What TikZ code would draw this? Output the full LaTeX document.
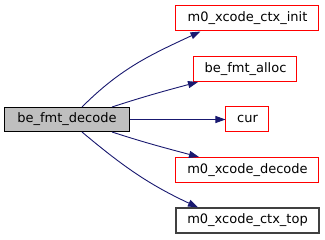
\documentclass[tikz,border=0pt]{standalone}
\usepackage{fontspec}
\setmainfont{DejaVu Sans}
\usetikzlibrary{arrows.meta,positioning}
\definecolor{edgeblue}{RGB}{25,25,112}
\definecolor{nodegray}{RGB}{191,191,191}
\definecolor{linkred}{RGB}{255,0,0}
\definecolor{darkframe}{RGB}{64,64,64}

\begin{document}
\begin{tikzpicture}[
    x=1pt, y=-1pt,
    fn/.style={draw=linkred, fill=white, line width=1pt, inner sep=0pt,
        minimum height=25pt, font=\fontsize{13}{15}\selectfont,
        text height=9.5pt, text depth=3pt},
    root/.style={fn, draw=black, fill=nodegray, minimum height=24pt},
    plain/.style={fn, draw=darkframe, line width=1.2pt},
    call/.style={edgeblue, line width=0.9pt, -{Triangle[length=10pt,width=7pt]}}
]
\useasboundingbox (0,0) rectangle (325,240);

% caller
\node[root, minimum width=125pt] (decode) at (67,119.5) {be\_fmt\_decode};

% callees
\node[fn, minimum width=143pt] (ctxinit) at (247.5,18.5) {m0\_xcode\_ctx\_init};
\node[fn, minimum width=103pt] (alloc) at (245.5,69) {be\_fmt\_alloc};
\node[fn, minimum width=43pt] (cur) at (247.5,119.5) {cur};
\node[fn, minimum width=143pt] (xdecode) at (247.5,170) {m0\_xcode\_decode};
\node[plain, minimum width=143pt] (ctxtop) at (247.5,220.5) {m0\_xcode\_ctx\_top};

% calls
\draw[call] ([xshift=15pt]decode.north) to[out=45,in=205] ([xshift=-47pt]ctxinit.south);
\draw[call] ([xshift=45pt]decode.north) to[out=18,in=195] ([xshift=-47.5pt]alloc.south);
\draw[call] (decode.east) -- (cur.west);
\draw[call] ([xshift=45pt]decode.south) to[out=-18,in=165] ([xshift=-48.5pt]xdecode.north);
\draw[call] ([xshift=15pt]decode.south) to[out=-40,in=155] ([xshift=-49.5pt]ctxtop.north);
\end{tikzpicture}
\end{document}
